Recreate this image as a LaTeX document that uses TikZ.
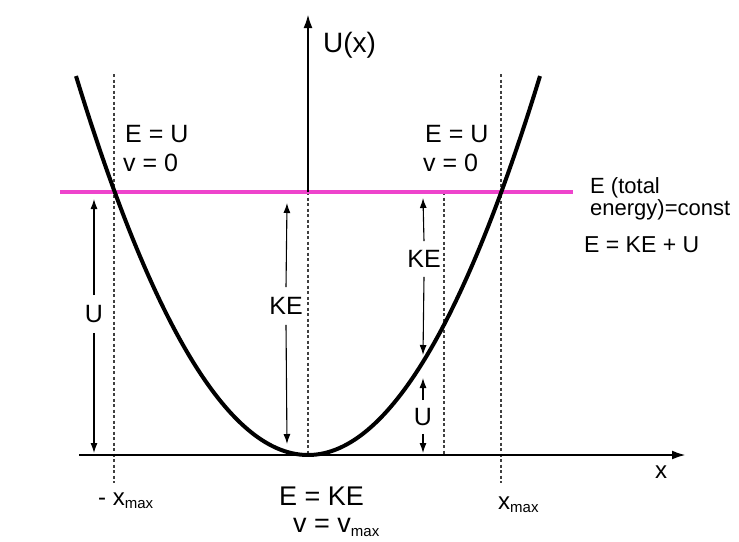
\documentclass[tikz,border=0pt]{standalone}
\usepackage{fontspec}
\setmainfont{Liberation Sans}
\usetikzlibrary{arrows.meta}

\definecolor{energyline}{RGB}{238,68,204}

\newcommand{\lowtxt}[1]{\raisebox{-0.3ex}{\fontsize{15}{15}\selectfont #1}}

\tikzset{
  lab/.style={inner sep=0pt, anchor=base west, font=\fontsize{25}{25}\selectfont},
  arrlab/.style={inner xsep=0pt, inner ysep=10pt, font=\fontsize{25}{25}\selectfont},
  dashline/.style={line width=1.2pt, dash pattern=on 3pt off 2.5pt, black!75},
  marrow/.style={line width=1.1pt, -{Latex[length=10pt,width=7pt]}},
  axis/.style={line width=2.5pt, -{Latex[length=14pt,width=9pt]}}
}

\begin{document}
\begin{tikzpicture}[x=1pt,y=-1pt]
\useasboundingbox (0,0) rectangle (739,541);

% axes points
\coordinate (O)     at (308,455);
\coordinate (xbeg)  at (79,455);
\coordinate (xtip)  at (686,455);
\coordinate (Emid)  at (308,192);
\coordinate (ytip)  at (308,14);

% turning points and energy line
\coordinate (Eleft)  at (60,192);
\coordinate (Eright) at (573,192);

% dotted guides
\draw[dashline] (114,74) -- (114,483);
\draw[dashline] (501,74) -- (501,483);
\draw[dashline] (Emid) -- (O);
\draw[dashline] (444,192) -- (444,455);

% total energy
\draw[energyline, line width=3.5pt] (Eleft) -- (Eright);

% potential
\draw[line width=4pt] plot[domain=-232:232, samples=90, smooth] ({308+\x},{455-(0.08391*\x)*(0.08391*\x)});

% axes
\draw[axis] (xbeg) -- (xtip);
\draw[axis] (Emid) -- (ytip);

\node[lab, font=\fontsize{28}{28}\selectfont] (ylab) at (323,52) {U(x)};
\node[lab, font=\fontsize{24}{24}\selectfont] (xlab) at (655,478) {x};

% turning point labels
\node[lab] (EUl) at (125,142) {E = U};
\node[lab] (vl)  at (123,171) {v = 0};
\node[lab] (EUr) at (425,142) {E = U};
\node[lab] (vr)  at (423,171) {v = 0};

\node[lab, font=\fontsize{22}{22}\selectfont] (tot1) at (590,193) {E (total};
\node[lab, font=\fontsize{22}{22}\selectfont] (tot2) at (590,215) {energy)=const};
\node[lab, font=\fontsize{23}{23}\selectfont] (sum)  at (584,252) {E = KE + U};

% bottom labels
\node[lab, font=\fontsize{24}{24}\selectfont] (xmin) at (98,505) {- x\lowtxt{max}};
\node[lab, font=\fontsize{24}{24}\selectfont] (xmax) at (498,509) {x\lowtxt{max}};
\node[lab, font=\fontsize{27}{27}\selectfont] (EKE)  at (279,505) {E = KE};
\node[lab, font=\fontsize{27}{27}\selectfont] (vmax) at (293,532) {v = v\lowtxt{max}};

% arrow ends
\coordinate (Ut1) at (94,199);
\coordinate (Ub1) at (94,453);
\coordinate (Kt1) at (287,203);
\coordinate (Kb1) at (287,444);
\coordinate (Kt2) at (423,198);
\coordinate (Kb2) at (423,355);
\coordinate (Ut2) at (423,378);
\coordinate (Ub2) at (423,453);

% arrow labels
\node[arrlab] (U1)  at (94,314)  {U};
\node[arrlab] (KE1) at (286,306) {KE};
\node[arrlab, inner ysep=9pt] (KE2) at (424,259) {KE};
\node[arrlab, inner ysep=8pt] (U2)  at (423,417) {U};

\draw[marrow] (U1.north)  -- (Ut1);
\draw[marrow] (U1.south)  -- (Ub1);
\draw[marrow] (KE1.north) -- (Kt1);
\draw[marrow] (KE1.south) -- (Kb1);
\draw[marrow] (KE2.north) -- (Kt2);
\draw[marrow] (KE2.south) -- (Kb2);
\draw[marrow] (U2.north)  -- (Ut2);
\draw[marrow] (U2.south)  -- (Ub2);

\end{tikzpicture}
\end{document}
